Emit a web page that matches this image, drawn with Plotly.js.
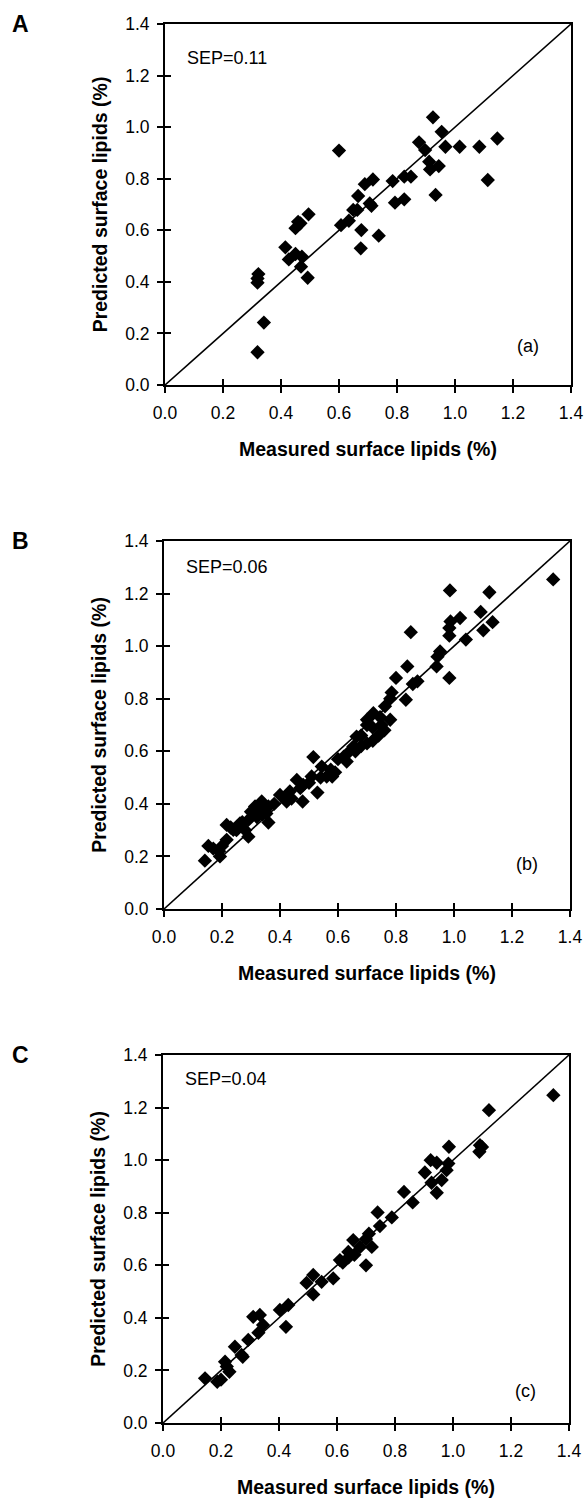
<!DOCTYPE html>
<html><head><meta charset="utf-8">
<script src="https://cdn.plot.ly/plotly-3.0.1.min.js"></script>
<style>body{margin:0;background:#fff}#chart{width:585px;height:1498px}</style>
</head><body><div id="chart"></div>
<script>
// Panel A
const measuredA = [0.319,0.341,0.319,0.319,0.322,0.415,0.427,0.450,0.472,0.469,0.492,0.450,0.459,0.467,0.495,0.600,0.607,0.634,0.649,0.663,0.666,0.677,0.675,0.689,0.706,0.712,0.717,0.737,0.785,0.793,0.825,0.825,0.848,0.876,0.897,0.911,0.914,0.944,0.924,0.954,0.967,0.933,1.016,1.084,1.113,1.146];
const predictedA = [0.127,0.242,0.397,0.413,0.430,0.534,0.487,0.508,0.498,0.459,0.416,0.608,0.633,0.627,0.662,0.909,0.620,0.637,0.679,0.679,0.733,0.601,0.530,0.779,0.704,0.695,0.797,0.579,0.791,0.707,0.720,0.808,0.808,0.941,0.911,0.866,0.836,0.849,1.038,0.982,0.924,0.737,0.924,0.924,0.795,0.956];
// Panel B
const measuredB = [0.141,0.153,0.193,0.190,0.216,0.216,0.239,0.262,0.291,0.291,0.314,0.337,0.360,0.360,0.353,0.400,0.423,0.434,0.458,0.478,0.480,0.515,0.509,0.529,0.544,0.561,0.575,0.580,0.630,0.653,0.664,
  0.170,0.200,0.230,0.250,0.270,0.280,0.300,0.320,0.330,0.340,0.380,0.440,0.470,0.500,0.540,0.590,0.600,0.620,0.640,0.680,0.700,0.720,0.740,0.750,0.760,0.720,0.700,0.680,0.660,0.780,
  0.700,0.722,0.745,0.762,0.780,0.785,0.800,0.834,0.839,0.851,0.858,0.874,0.940,0.943,0.952,0.984,0.984,0.984,0.988,0.986,1.021,1.041,1.092,1.101,1.122,1.133,1.342];
const predictedB = [0.184,0.240,0.200,0.220,0.263,0.320,0.301,0.326,0.339,0.275,0.390,0.409,0.390,0.329,0.363,0.434,0.409,0.447,0.491,0.409,0.472,0.578,0.504,0.443,0.542,0.504,0.530,0.504,0.561,0.618,0.656,
  0.230,0.240,0.310,0.300,0.330,0.300,0.370,0.350,0.380,0.360,0.400,0.420,0.460,0.480,0.500,0.520,0.570,0.580,0.600,0.660,0.630,0.640,0.660,0.700,0.680,0.690,0.700,0.620,0.600,0.720,
  0.720,0.745,0.730,0.771,0.800,0.824,0.879,0.796,0.923,1.053,0.856,0.866,0.923,0.960,0.980,0.879,1.040,1.069,1.094,1.212,1.107,1.025,1.130,1.060,1.205,1.091,1.254];
// Panel C
const measuredC = [0.145,0.187,0.200,0.214,0.229,0.220,0.248,0.271,0.275,0.294,0.311,0.334,0.329,0.345,0.403,0.432,0.424,0.495,0.518,0.547,0.518,0.587,0.610,0.639,0.656,
  0.620,0.640,0.660,0.680,0.700,0.700,0.720,0.710,0.748,0.740,0.789,0.831,0.861,
  0.903,0.923,0.926,0.944,0.944,0.961,0.978,0.984,0.986,1.091,1.093,1.100,1.124,1.346];
const predictedC = [0.170,0.157,0.165,0.233,0.195,0.215,0.290,0.259,0.252,0.316,0.404,0.411,0.343,0.373,0.430,0.449,0.366,0.533,0.563,0.537,0.489,0.550,0.620,0.651,0.696,
  0.610,0.630,0.640,0.670,0.700,0.600,0.670,0.720,0.749,0.801,0.782,0.879,0.839,
  0.953,1.000,0.914,0.990,0.876,0.924,0.962,0.987,1.051,1.032,1.057,1.050,1.190,1.247];

const identity = [0, 1.4];
const tickVals = [0,0.2,0.4,0.6,0.8,1.0,1.2,1.4];
const tickText = ['0.0','0.2','0.4','0.6','0.8','1.0','1.2','1.4'];
const panelLetters = ['A','B','C'];
const sepTexts = ['SEP=0.11','SEP=0.06','SEP=0.04'];
const subTexts = ['(a)','(b)','(c)'];
const xTitle = 'Measured surface lipids (%)';
const yTitle = 'Predicted surface lipids (%)';

const panels = [[measuredA,predictedA],[measuredB,predictedB],[measuredC,predictedC]];
const W = 585, H = 1498;
// plot boxes in px: [left, right, top, bottom]
const boxes = [[165,571,24,385],[164,570,541,909],[163,569,1055,1423]];
const sepY = [1.27,1.30,1.31];
const subY = [0.15,0.17,0.12];

const font = 'Liberation Sans, Arial, Helvetica, sans-serif';
const data = [];
const layout = {
  width: W, height: H, margin:{l:0,r:0,t:0,b:0},
  paper_bgcolor:'#fff', plot_bgcolor:'rgba(0,0,0,0)', showlegend:false,
  font:{family:font, color:'#000'}, annotations:[]
};
panels.forEach((p,i)=>{
  const n = i+1, m = i+4;
  const [l,r,t,b] = boxes[i];
  const xd = [l/W, r/W], yd = [1-b/H, 1-t/H];
  const xs = n===1?'':n, ms = m;
  data.push({x:p[0], y:p[1], type:'scatter', mode:'markers', xaxis:'x'+xs, yaxis:'y'+xs,
    marker:{symbol:'diamond', size:11, color:'#000', line:{width:0}}, cliponaxis:false});
  data.push({x:identity, y:identity, type:'scatter', mode:'lines', xaxis:'x'+ms, yaxis:'y'+ms,
    line:{color:'#000', width:1.6}});
  const base = {range:[0,1.4], tickvals:tickVals, ticktext:tickText, showgrid:false, zeroline:false,
    linecolor:'#000', linewidth:2, tickcolor:'#000', tickwidth:2, ticklen:6};
  layout['xaxis'+xs] = Object.assign({}, base, {domain:xd, anchor:'y'+xs, ticks:'outside', mirror:true, showline:true,
    tickfont:{size:17.5, family:font}, ticklabelstandoff:5, ticklabeloverflow:'allow',
    title:{text:xTitle, font:{size:19.5, family:font, weight:'bold'}, standoff:20}});
  layout['yaxis'+xs] = Object.assign({}, base, {domain:yd, anchor:'x'+xs, ticks:'outside', mirror:true, showline:true,
    tickfont:{size:17.5, family:font}, ticklabelstandoff:4,
    title:{text:yTitle, font:{size:19.5, family:font, weight:'bold'}, standoff:12}});
  layout['xaxis'+ms] = Object.assign({}, base, {domain:xd, anchor:'y'+xs, overlaying:'x'+xs, ticks:'inside', showline:false, showticklabels:false});
  layout['yaxis'+ms] = Object.assign({}, base, {domain:yd, anchor:'x'+xs, overlaying:'y'+xs, ticks:'inside', showline:false, showticklabels:false});
  layout.annotations.push({text:panelLetters[i], xref:'paper', yref:'paper', x:20/W, y:1-t/H, xanchor:'center', yanchor:'middle', showarrow:false, font:{size:23, family:font, weight:'bold'}});
  layout.annotations.push({text:sepTexts[i], xref:'x'+xs, yref:'y'+xs, x:0.07, y:sepY[i], xanchor:'left', yanchor:'middle', showarrow:false, font:{size:18, family:font}});
  layout.annotations.push({text:subTexts[i], xref:'x'+xs, yref:'y'+xs, x:1.25, y:subY[i], xanchor:'center', yanchor:'middle', showarrow:false, font:{size:18, family:font}});
});
Plotly.newPlot('chart', data, layout, {staticPlot:true});
</script>
</body></html>
